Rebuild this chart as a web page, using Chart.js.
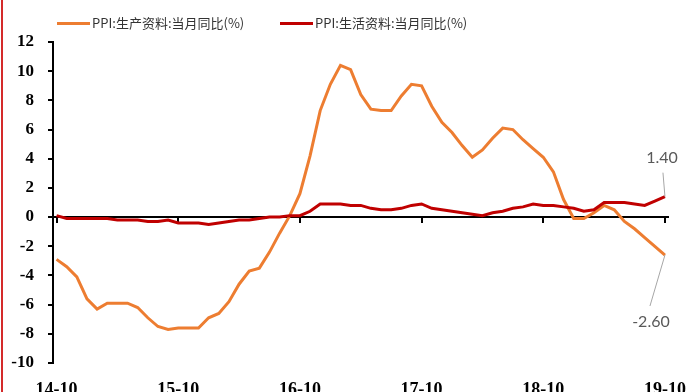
<!DOCTYPE html>
<html>
<head>
<meta charset="utf-8">
<script src="https://cdn.jsdelivr.net/npm/chart.js@4/dist/chart.umd.min.js"></script>
<style>
  html, body { margin: 0; padding: 0; background: #fff; overflow: hidden; }
  #wrap { position: relative; width: 692px; height: 392px; overflow: hidden; }
  #frame { position: absolute; left: 1px; top: 0; width: 2px; height: 392px; background: #d42a2a; }
  canvas { position: absolute; left: 0; top: 0; }
</style>
</head>
<body>
<div id="wrap">
  <canvas id="ppiChart" width="692" height="400" style="width:692px;height:400px"></canvas>
  <div id="frame"></div>
</div>
<script>
// monthly, 2014-10 .. 2019-10
const months = [
    "14-10", "14-11", "14-12",
    "15-01", "15-02", "15-03", "15-04", "15-05", "15-06", "15-07", "15-08", "15-09", "15-10", "15-11", "15-12",
    "16-01", "16-02", "16-03", "16-04", "16-05", "16-06", "16-07", "16-08", "16-09", "16-10", "16-11", "16-12",
    "17-01", "17-02", "17-03", "17-04", "17-05", "17-06", "17-07", "17-08", "17-09", "17-10", "17-11", "17-12",
    "18-01", "18-02", "18-03", "18-04", "18-05", "18-06", "18-07", "18-08", "18-09", "18-10", "18-11", "18-12",
    "19-01", "19-02", "19-03", "19-04", "19-05", "19-06", "19-07", "19-08", "19-09", "19-10"
];
const tickLabels = ["14-10", "15-10", "16-10", "17-10", "18-10", "19-10"];
const seriesNames = ["PPI:生产资料:当月同比(%)", "PPI:生活资料:当月同比(%)"];

const producerGoods = [
    -2.9, -3.4, -4.1, -5.6, -6.3, -5.9, -5.9, -5.9, -6.2, -6.9,
    -7.5, -7.7, -7.6, -7.6, -7.6, -6.9, -6.6, -5.8, -4.6, -3.7,
    -3.5, -2.4, -1.1, 0.1, 1.6, 4.2, 7.3, 9.1, 10.4, 10.1,
    8.4, 7.4, 7.3, 7.3, 8.3, 9.1, 9.0, 7.6, 6.5, 5.8,
    4.9, 4.1, 4.6, 5.4, 6.1, 6.0, 5.3, 4.7, 4.1, 3.1,
    1.2, -0.1, -0.1, 0.3, 0.8, 0.5, -0.3, -0.8, -1.4, -2.0, -2.6
];
const consumerGoods = [
    0.1, -0.1, -0.1, -0.1, -0.1, -0.1, -0.2, -0.2, -0.2, -0.3,
    -0.3, -0.2, -0.4, -0.4, -0.4, -0.5, -0.4, -0.3, -0.2, -0.2,
    -0.1, 0.0, 0.0, 0.1, 0.1, 0.4, 0.9, 0.9, 0.9, 0.8,
    0.8, 0.6, 0.5, 0.5, 0.6, 0.8, 0.9, 0.6, 0.5, 0.4,
    0.3, 0.2, 0.1, 0.3, 0.4, 0.6, 0.7, 0.9, 0.8, 0.8,
    0.7, 0.6, 0.4, 0.5, 1.0, 1.0, 1.0, 0.9, 0.8, 1.1, 1.4
];

const X_MIN = -0.35, X_MAX = 60.3;
const axisFont = { family: "'Liberation Serif', 'Times New Roman', serif", size: 17, weight: "bold" };

function toPoints(arr) {
    return arr.map((v, i) => ({ x: i, y: v }));
}

function setYearTicks(scale) {
    scale.ticks = tickLabels.map(l => ({ value: months.indexOf(l) }));
}

// legend drawn by hand so the short line + text spacing matches
const topLegend = {
    id: "topLegend",
    afterDraw(chart) {
        const ctx = chart.ctx;
        const starts = [57, 280];
        ctx.save();
        ctx.font = "13px 'Noto Sans CJK SC'";
        ctx.textBaseline = "middle";
        ctx.fillStyle = "#333";
        chart.data.datasets.forEach((ds, i) => {
            const x = starts[i], y = 23.5;
            ctx.strokeStyle = ds.borderColor;
            ctx.lineWidth = 3;
            ctx.beginPath();
            ctx.moveTo(x, y);
            ctx.lineTo(x + 33, y);
            ctx.stroke();
            ctx.fillText(ds.label, x + 35, y);
        });
        ctx.restore();
    }
};

// value callouts on the last point of each line
const endLabels = {
    id: "endLabels",
    afterDatasetsDraw(chart) {
        const ctx = chart.ctx;
        const offsets = [
            { lx: -15, ly: 51, tx: -14, ty: 67 },
            { lx: -2, ly: -24, tx: -3, ty: -39 }
        ];
        ctx.save();
        ctx.font = "16px Lato";
        ctx.textAlign = "center";
        ctx.textBaseline = "middle";
        chart.data.datasets.forEach((ds, i) => {
            const meta = chart.getDatasetMeta(i);
            const pt = meta.data[meta.data.length - 1];
            const o = offsets[i];
            const val = ds.data[ds.data.length - 1].y;
            ctx.strokeStyle = "#a6a6a6";
            ctx.lineWidth = 1;
            ctx.beginPath();
            ctx.moveTo(pt.x, pt.y);
            ctx.lineTo(pt.x + o.lx, pt.y + o.ly);
            ctx.stroke();
            ctx.fillStyle = "#595959";
            ctx.fillText(val.toFixed(2), pt.x + o.tx, pt.y + o.ty);
        });
        ctx.restore();
    }
};

new Chart(document.getElementById("ppiChart"), {
    type: "line",
    data: {
        datasets: [
            {
                label: seriesNames[0],
                data: toPoints(producerGoods),
                borderColor: "#ED7D31",
                borderWidth: 3,
                pointRadius: 0,
                tension: 0,
                order: 1
            },
            {
                label: seriesNames[1],
                data: toPoints(consumerGoods),
                borderColor: "#C00000",
                borderWidth: 3,
                pointRadius: 0,
                tension: 0,
                order: 0
            }
        ]
    },
    options: {
        responsive: false,
        animation: false,
        devicePixelRatio: 1,
        layout: { padding: { top: 42, right: 24, bottom: 0, left: 0 } },
        plugins: {
            legend: { display: false },
            tooltip: { enabled: false }
        },
        scales: {
            x: {
                type: "linear",
                min: X_MIN,
                max: X_MAX,
                position: "bottom",
                grid: { display: false, drawTicks: false },
                border: { display: false },
                afterBuildTicks: setYearTicks,
                afterFit: s => {
                    s.height = 37;
                    s.paddingLeft = 0;
                    s.paddingRight = 0;
                },
                ticks: {
                    font: { ...axisFont, size: 18 },
                    color: "#000",
                    padding: 17,
                    maxRotation: 0,
                    autoSkip: false,
                    callback: v => months[v]
                }
            },
            xZero: {
                type: "linear",
                axis: "x",
                min: X_MIN,
                max: X_MAX,
                position: { y: 0 },
                grid: { drawOnChartArea: false, drawTicks: true, tickLength: 5, color: "#000", lineWidth: 2 },
                border: { color: "#000", width: 2 },
                afterBuildTicks: setYearTicks,
                afterFit: s => {
                    s.paddingLeft = 0;
                    s.paddingRight = 0;
                },
                ticks: { display: false }
            },
            y: {
                min: -10,
                max: 12,
                afterFit: s => { s.width = 53; },
                ticks: { stepSize: 2, font: axisFont, color: "#000", padding: 14 },
                grid: { drawOnChartArea: false, tickLength: 5, color: "#000", lineWidth: 2 },
                border: { color: "#000", width: 2 }
            }
        }
    },
    plugins: [topLegend, endLabels]
});
</script>
</body>
</html>
